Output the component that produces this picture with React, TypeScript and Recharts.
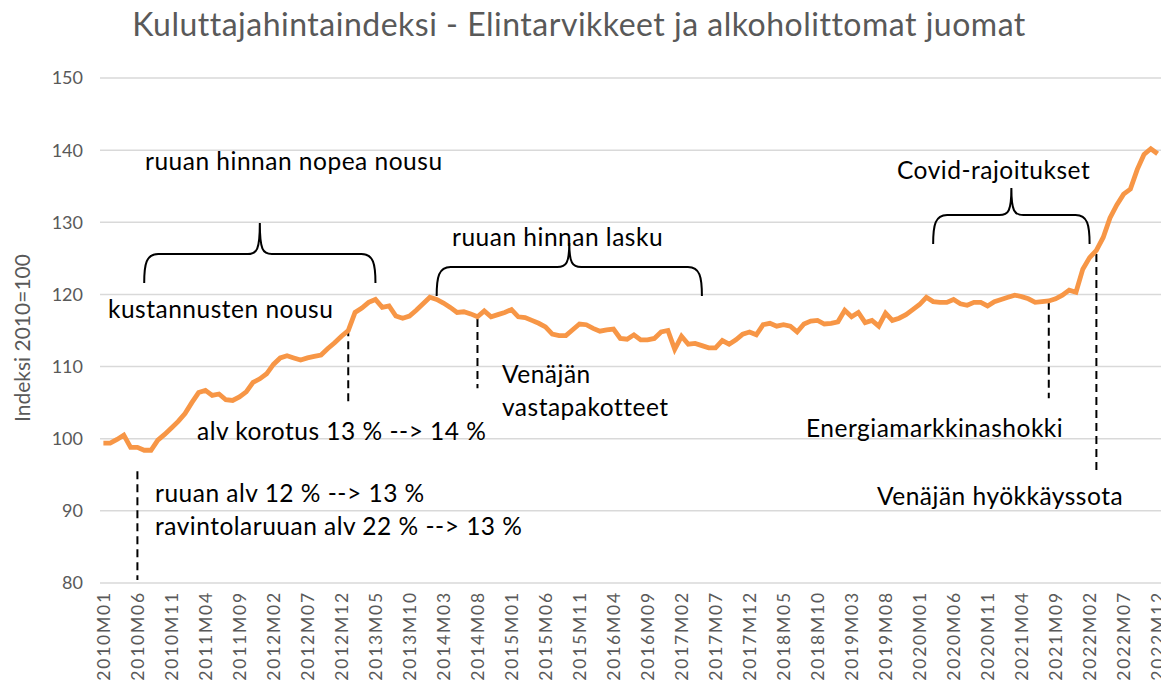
import { LineChart, Line, XAxis, YAxis, CartesianGrid, ReferenceLine } from "recharts"

const years = [2010, 2011, 2012, 2013, 2014, 2015, 2016, 2017, 2018, 2019, 2020, 2021, 2022]

// Kuluttajahintaindeksi, elintarvikkeet ja alkoholittomat juomat (2010=100), monthly
const idx2010 = [99.4, 99.4, 99.9, 100.5, 98.8, 98.8, 98.4, 98.4, 99.8, 100.6, 101.5, 102.4]
const idx2011 = [103.5, 105.0, 106.4, 106.7, 106.0, 106.2, 105.4, 105.3, 105.8, 106.5, 107.8, 108.3]
const idx2012 = [109.0, 110.3, 111.2, 111.5, 111.2, 110.9, 111.2, 111.4, 111.6, 112.5, 113.3, 114.2]
const idx2013 = [115.0, 117.5, 118.1, 118.9, 119.3, 118.2, 118.4, 117.0, 116.7, 117.0, 117.8, 118.7]
const idx2014 = [119.6, 119.3, 118.8, 118.2, 117.5, 117.6, 117.3, 116.9, 117.7, 116.9, 117.2, 117.5]
const idx2015 = [117.9, 116.9, 116.8, 116.4, 116.0, 115.5, 114.5, 114.3, 114.3, 115.1, 115.9, 115.8]
const idx2016 = [115.3, 114.9, 115.1, 115.2, 113.9, 113.8, 114.4, 113.7, 113.7, 113.9, 114.8, 115.0]
const idx2017 = [112.4, 114.2, 113.1, 113.2, 112.9, 112.6, 112.6, 113.6, 113.1, 113.7, 114.5, 114.8]
const idx2018 = [114.4, 115.8, 116.0, 115.6, 115.8, 115.6, 114.8, 115.9, 116.3, 116.4, 115.9, 116.0]
const idx2019 = [116.2, 117.8, 116.9, 117.5, 116.1, 116.4, 115.6, 117.4, 116.4, 116.7, 117.2, 117.9]
const idx2020 = [118.6, 119.6, 119.0, 118.9, 118.9, 119.3, 118.7, 118.5, 118.9, 118.9, 118.4, 119.0]
const idx2021 = [119.3, 119.6, 119.9, 119.7, 119.4, 118.9, 119.0, 119.1, 119.4, 119.9, 120.6, 120.3]
const idx2022 = [123.5, 125.1, 126.1, 127.9, 130.6, 132.4, 133.9, 134.6, 137.3, 139.4, 140.2, 139.5]

const values = [
  ...idx2010, ...idx2011, ...idx2012, ...idx2013, ...idx2014, ...idx2015, ...idx2016,
  ...idx2017, ...idx2018, ...idx2019, ...idx2020, ...idx2021, ...idx2022,
]

const months = years.flatMap((y) =>
  Array.from({ length: 12 }, (_, m) => `${y}M${String(m + 1).padStart(2, "0")}`)
)

const data = months.map((month, i) => ({ month, index: values[i] }))

const yTicks = [80, 90, 100, 110, 120, 130, 140, 150]

// curly braces over periods (tip = height of the middle spike in px)
const braces = [
  { from: "2010M07", to: "2013M05", level: 125.6, tip: 31 },
  { from: "2014M02", to: "2017M05", level: 123.8, tip: 24 },
  { from: "2020M03", to: "2022M02", level: 131.0, tip: 27 },
]

// dashed event markers
const events = [
  { month: "2010M06", top: 95.5, bottom: 80.4 },
  { month: "2013M01", top: 115.3, bottom: 105 },
  { month: "2014M08", top: 116.6, bottom: 107 },
  { month: "2021M08", top: 119.0, bottom: 105.6 },
  { month: "2022M03", top: 125.6, bottom: 95.6 },
]

const notes = [
  { x: 145, y: 170, text: "ruuan hinnan nopea nousu" },
  { x: 108, y: 318, text: "kustannusten nousu" },
  { x: 452, y: 246, text: "ruuan hinnan lasku" },
  { x: 197, y: 440, text: "alv korotus 13 % --> 14 %" },
  { x: 502, y: 383, text: "Venäjän" },
  { x: 502, y: 416, text: "vastapakotteet" },
  { x: 155, y: 502, text: "ruuan alv 12 % --> 13 %" },
  { x: 155, y: 535, text: "ravintolaruuan alv 22 % --> 13 %" },
  { x: 897, y: 179, text: "Covid-rajoitukset" },
  { x: 806, y: 437, text: "Energiamarkkinashokki" },
  { x: 877, y: 505, text: "Venäjän hyökkäyssota" },
]

const font = "Lato, 'Open Sans', sans-serif"

function makeBrace(tip: number) {
  return (props: any) => {
    const l = Math.min(props.x1, props.x2)
    const r = Math.max(props.x1, props.x2)
    const y = props.y1
    const m = (l + r) / 2
    const d =
      `M${l},${y + 29} C${l},${y + 10} ${l + 2},${y} ${l + 14},${y} ` +
      `L${m - 12},${y} C${m - 3},${y} ${m},${y - 4} ${m},${y - tip} ` +
      `C${m},${y - 4} ${m + 3},${y} ${m + 12},${y} ` +
      `L${r - 14},${y} C${r - 2},${y} ${r},${y + 10} ${r},${y + 29}`
    return <path d={d} fill="none" stroke="#000" strokeWidth={2} />
  }
}

function MonthTick({ x, y, payload }: any) {
  return (
    <text
      x={x}
      y={y}
      transform={`rotate(-90 ${x} ${y})`}
      textAnchor="end"
      dx={-8}
      dy={6.5}
      fill="#595959"
      fontSize={17.5}
      letterSpacing={1.8}
      fontFamily={font}
    >
      {payload.value}
    </text>
  )
}

export default function App() {
  return (
    <div style={{ position: "absolute", left: 0, top: 0, width: 1161, height: 690, background: "#fff", overflow: "hidden" }}>
      <LineChart width={1161} height={690} data={data} margin={{ top: 78, right: 0, bottom: 0, left: 0 }}>
        <CartesianGrid vertical={false} stroke="#d9d9d9" strokeWidth={1.5} />
        <XAxis
          dataKey="month"
          interval={4}
          height={107}
          tickSize={0}
          tickMargin={0}
          axisLine={false}
          tick={<MonthTick />}
          padding={{ left: 3.4, right: 3.4 }}
        />
        <YAxis
          domain={[80, 150]}
          ticks={yTicks}
          width={100}
          tickSize={0}
          tickMargin={17}
          axisLine={false}
          tick={{ fill: "#595959", fontSize: 18, fontFamily: font }}
        />
        {braces.map((b) => (
          <ReferenceLine
            key={b.from}
            segment={[{ x: b.from, y: b.level }, { x: b.to, y: b.level }]}
            shape={makeBrace(b.tip)}
            ifOverflow="visible"
          />
        ))}
        {events.map((e) => (
          <ReferenceLine
            key={e.month}
            segment={[{ x: e.month, y: e.top }, { x: e.month, y: e.bottom }]}
            stroke="#000"
            strokeWidth={2}
            strokeDasharray="8 5"
            ifOverflow="visible"
          />
        ))}
        <Line
          type="linear"
          dataKey="index"
          stroke="#F79646"
          strokeWidth={4.8}
          dot={false}
          isAnimationActive={false}
        />
      </LineChart>
      <svg width={1161} height={690} style={{ position: "absolute", left: 0, top: 0, pointerEvents: "none" }}>
        <text x={579} y={36} textAnchor="middle" fill="#595959" fontSize={32} letterSpacing={0.5} fontFamily={font}>
          Kuluttajahintaindeksi - Elintarvikkeet ja alkoholittomat juomat
        </text>
        <text
          x={30}
          y={338}
          transform="rotate(-90 30 338)"
          textAnchor="middle"
          fill="#595959"
          fontSize={21}
          fontFamily={font}
        >
          Indeksi 2010=100
        </text>
        {notes.map((n) => (
          <text key={n.text} x={n.x} y={n.y} fill="#000" fontSize={24.5} letterSpacing={0.5} fontFamily={font}>
            {n.text}
          </text>
        ))}
      </svg>
    </div>
  )
}
